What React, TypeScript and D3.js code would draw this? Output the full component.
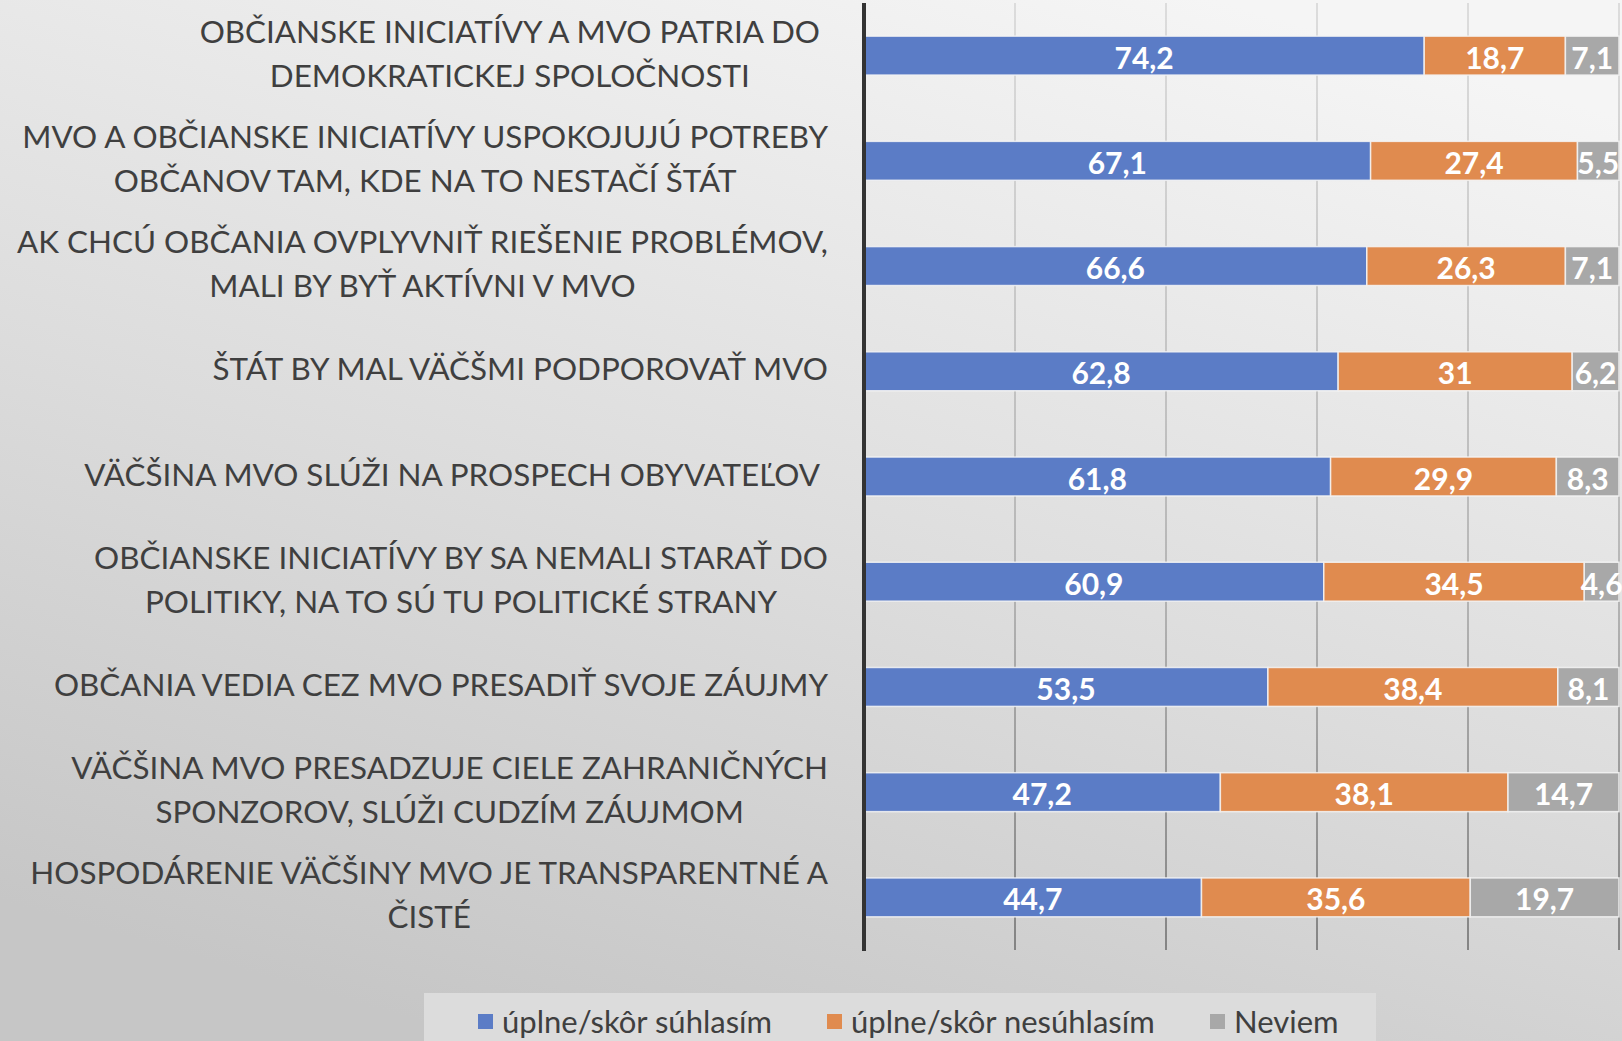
import { useEffect, useRef } from 'react'
import * as d3 from 'd3'

// statements (wrapped lines as in the original chart)
const categories: string[][] = [
  ['OBČIANSKE INICIATÍVY A MVO PATRIA DO ', 'DEMOKRATICKEJ SPOLOČNOSTI'],
  ['MVO A OBČIANSKE INICIATÍVY USPOKOJUJÚ POTREBY', 'OBČANOV TAM, KDE NA TO NESTAČÍ ŠTÁT'],
  ['AK CHCÚ OBČANIA OVPLYVNIŤ RIEŠENIE PROBLÉMOV,', 'MALI BY BYŤ AKTÍVNI V MVO'],
  ['ŠTÁT BY MAL VÄČŠMI PODPOROVAŤ MVO'],
  ['VÄČŠINA MVO SLÚŽI NA PROSPECH OBYVATEĽOV '],
  ['OBČIANSKE INICIATÍVY BY SA NEMALI STARAŤ DO', 'POLITIKY, NA TO SÚ TU POLITICKÉ STRANY'],
  ['OBČANIA VEDIA CEZ MVO PRESADIŤ SVOJE ZÁUJMY'],
  ['VÄČŠINA MVO PRESADZUJE CIELE ZAHRANIČNÝCH', 'SPONZOROV, SLÚŽI CUDZÍM ZÁUJMOM'],
  ['HOSPODÁRENIE VÄČŠINY MVO JE TRANSPARENTNÉ A', 'ČISTÉ'],
]

const agree = [74.2, 67.1, 66.6, 62.8, 61.8, 60.9, 53.5, 47.2, 44.7]
const disagree = [18.7, 27.4, 26.3, 31, 29.9, 34.5, 38.4, 38.1, 35.6]
const dontKnow = [7.1, 5.5, 7.1, 6.2, 8.3, 4.6, 8.1, 14.7, 19.7]

const seriesNames = ['úplne/skôr súhlasím', 'úplne/skôr nesúhlasím', 'Neviem']
const seriesColors = ['#5b7cc6', '#e08b4f', '#a8a8a8']
const xTicks = [20, 40, 60, 80, 100]

const W = 1622
const H = 1041

export default function App() {
  const svgRef = useRef<SVGSVGElement>(null)

  useEffect(() => {
    if (!svgRef.current) return
    const svg = d3.select(svgRef.current)
    svg.selectAll('*').remove()

    const defs = svg.append('defs')
    const bg = defs
      .append('linearGradient')
      .attr('id', 'bg')
      .attr('x1', '0.75')
      .attr('y1', '0')
      .attr('x2', '0.3')
      .attr('y2', '1')
    bg.append('stop').attr('offset', '0').attr('stop-color', '#f5f5f5')
    bg.append('stop').attr('offset', '0.55').attr('stop-color', '#dcdcdc')
    bg.append('stop').attr('offset', '1').attr('stop-color', '#c6c6c6')

    const grid = defs
      .append('linearGradient')
      .attr('id', 'grid')
      .attr('gradientUnits', 'userSpaceOnUse')
      .attr('x1', 0)
      .attr('y1', 0)
      .attr('x2', 0)
      .attr('y2', 950)
    grid.append('stop').attr('offset', '0').attr('stop-color', '#d4d4d4')
    grid.append('stop').attr('offset', '0.6').attr('stop-color', '#a8a8a8')
    grid.append('stop').attr('offset', '1').attr('stop-color', '#6a6a6a')

    svg.append('rect').attr('width', W).attr('height', H).attr('fill', 'url(#bg)')

    const x = d3.scaleLinear().domain([0, 100]).range([864, 1619])
    const y = d3
      .scaleBand<number>()
      .domain(d3.range(categories.length))
      .range([3, 950])
      .paddingInner(0.63)
      .paddingOuter(0.315)

    // gridlines
    svg
      .append('g')
      .selectAll('line')
      .data(xTicks)
      .join('line')
      .attr('x1', d => x(d))
      .attr('x2', d => x(d))
      .attr('y1', 3)
      .attr('y2', 950)
      .attr('stroke', 'url(#grid)')
      .attr('stroke-width', 1.5)

    // stacked bars
    const series = [agree, disagree, dontKnow]
    const rows = categories.map((_, i) => ({ i, v: series.map(s => s[i]) }))
    const stack = d3
      .stack<{ i: number; v: number[] }, number>()
      .keys([0, 1, 2])
      .value((d, k) => d.v[k])
    const stacked = stack(rows)

    stacked.forEach((layer, k) => {
      const g = svg.append('g')
      g.selectAll('rect')
        .data(layer)
        .join('rect')
        .attr('x', d => x(d[0]))
        .attr('y', d => y(d.data.i)!)
        .attr('width', d => x(d[1]) - x(d[0]))
        .attr('height', y.bandwidth())
        .attr('fill', seriesColors[k])
        .attr('stroke', '#f4f4f4')
        .attr('stroke-opacity', 0.85)
        .attr('stroke-width', 1.5)
      g.selectAll('text')
        .data(layer)
        .join('text')
        .attr('x', d => (x(d[0]) + x(d[1])) / 2)
        .attr('y', d => y(d.data.i)! + y.bandwidth() / 2 + 1)
        .attr('text-anchor', 'middle')
        .attr('dominant-baseline', 'central')
        .attr('font-family', 'Lato, sans-serif')
        .attr('font-weight', 700)
        .attr('font-size', 30)
        .attr('fill', '#ffffff')
        .text(d => String(d.data.v[k]).replace('.', ','))
    })

    // axis line
    svg
      .append('line')
      .attr('x1', x(0))
      .attr('x2', x(0))
      .attr('y1', 3)
      .attr('y2', 951)
      .attr('stroke', '#333333')
      .attr('stroke-width', 4)

    // category labels: lines centered in a right-aligned block
    const labelRight = 828
    const lineGap = 44
    const lg = svg
      .append('g')
      .attr('font-family', 'Lato, sans-serif')
      .attr('font-size', 31.4)
      .attr('fill', '#3f3f3f')
    categories.forEach((lines, i) => {
      const cy = y(i)! + y.bandwidth() / 2 - 3
      const texts = lines.map((ln, j) =>
        lg
          .append('text')
          .attr('y', cy + (j - (lines.length - 1) / 2) * lineGap)
          .attr('dominant-baseline', 'central')
          .attr('text-anchor', 'middle')
          .text(ln.trim())
      )
      const widths = texts.map(t => (t.node() as SVGTextElement).getComputedTextLength())
      const blockW = Math.max(...widths)
      const trailing = lines.some(l => l.endsWith(' ')) ? 8 : 0
      const cx = labelRight - trailing - blockW / 2
      texts.forEach(t => t.attr('x', cx))
    })

    // legend
    const leg = svg.append('g')
    leg
      .append('rect')
      .attr('x', 424)
      .attr('y', 993)
      .attr('width', 952)
      .attr('height', 60)
      .attr('fill', '#dcdcdc')
    const legX = [478, 827, 1210]
    seriesNames.forEach((name, k) => {
      leg
        .append('rect')
        .attr('x', legX[k])
        .attr('y', 1014)
        .attr('width', 15)
        .attr('height', 15)
        .attr('fill', seriesColors[k])
      leg
        .append('text')
        .attr('x', legX[k] + 24)
        .attr('y', 1021)
        .attr('dominant-baseline', 'central')
        .attr('font-family', 'Lato, sans-serif')
        .attr('font-size', 31)
        .attr('fill', '#3f3f3f')
        .text(name)
    })
  }, [])

  return (
    <svg
      ref={svgRef}
      width={W}
      height={H}
      style={{ position: 'absolute', left: 0, top: 0, display: 'block' }}
    />
  )
}
